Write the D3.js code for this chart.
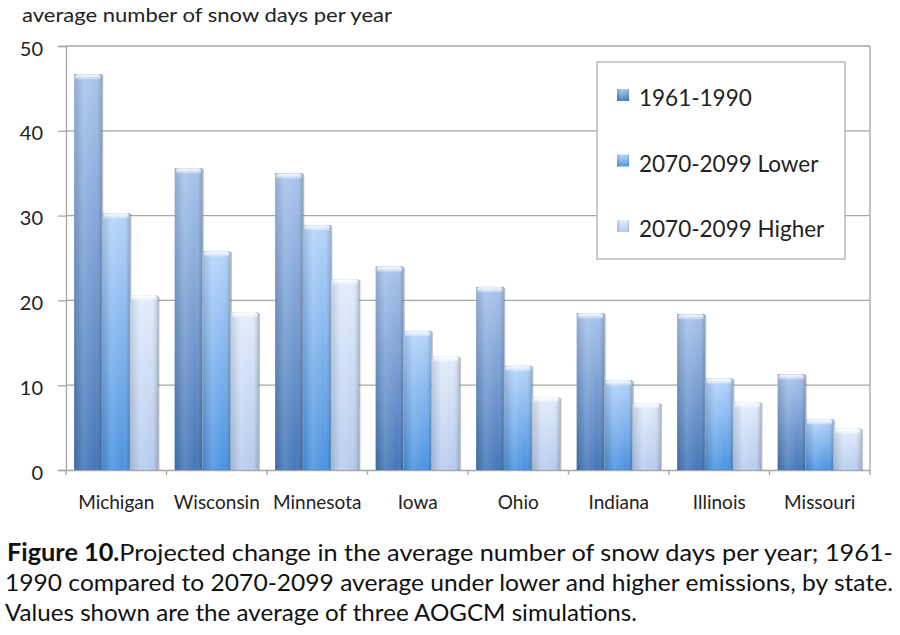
<!DOCTYPE html>
<html><head><meta charset="utf-8">
<script src="https://cdn.jsdelivr.net/npm/d3@7"></script>
<style>body{margin:0;background:#fff}svg{display:block}</style>
</head><body>
<svg id="c" width="900" height="635"></svg>
<script>
const states = ["Michigan","Wisconsin","Minnesota","Iowa","Ohio","Indiana","Illinois","Missouri"];
const seriesNames = ["1961-1990","2070-2099 Lower","2070-2099 Higher"];
const base = [46.7, 35.6, 35.0, 24.0, 21.6, 18.5, 18.4, 11.3];
const lower = [30.3, 25.8, 28.9, 16.4, 12.3, 10.6, 10.8, 6.0];
const higher = [20.6, 18.6, 22.5, 13.4, 8.6, 7.9, 8.0, 4.9];
const yTicks = [0,10,20,30,40,50];
const values = [base, lower, higher];

const svg = d3.select("#c");
const M = {l:66, r:870, t:46, b:470};
const x0 = d3.scaleBand().domain(states).range([M.l, M.r]);
const x1 = d3.scaleBand().domain(seriesNames).range([0, x0.bandwidth()]).paddingOuter(0.29);
const y = d3.scaleLinear().domain([0,50]).range([M.b, M.t]);

const defs = svg.append("defs");
const cols = [
  {top:"#a9c4ec", bot:"#4577b8"},
  {top:"#b6d5fb", bot:"#4b93e0"},
  {top:"#e2ecfb", bot:"#b6cbee"}
];
cols.forEach((c,i)=>{
  const g = defs.append("linearGradient").attr("id","v"+i).attr("x1",0).attr("y1",0).attr("x2",0).attr("y2",1);
  g.append("stop").attr("offset","0%").attr("stop-color",c.top);
  g.append("stop").attr("offset","100%").attr("stop-color",c.bot);
});
const h = defs.append("linearGradient").attr("id","hshade").attr("x1",0).attr("y1",0).attr("x2",1).attr("y2",0);
h.append("stop").attr("offset","0%").attr("stop-color","#000").attr("stop-opacity",0.12);
h.append("stop").attr("offset","35%").attr("stop-color","#fff").attr("stop-opacity",0.12);
h.append("stop").attr("offset","75%").attr("stop-color","#fff").attr("stop-opacity",0.0);
h.append("stop").attr("offset","100%").attr("stop-color","#000").attr("stop-opacity",0.18);
const capg = defs.append("linearGradient").attr("id","cap").attr("x1",0).attr("y1",0).attr("x2",0).attr("y2",1);
capg.append("stop").attr("offset","0%").attr("stop-color","#fff").attr("stop-opacity",0.95);
capg.append("stop").attr("offset","100%").attr("stop-color","#fff").attr("stop-opacity",0.2);

const font = "Lato, Calibri, 'Open Sans', sans-serif";

// gridlines
svg.append("g").selectAll("line").data(yTicks.filter(d=>d>0)).join("line")
  .attr("x1",M.l).attr("x2",M.r).attr("y1",d=>y(d)).attr("y2",d=>y(d))
  .attr("stroke","#a6a6a6").attr("stroke-width",1.3);
svg.append("line").attr("x1",M.r).attr("x2",M.r).attr("y1",M.t).attr("y2",M.b).attr("stroke","#a6a6a6").attr("stroke-width",1.3);

// y axis
const ya = svg.append("g").attr("transform",`translate(${M.l},0)`)
  .call(d3.axisLeft(y).tickValues(yTicks).tickSize(8).tickPadding(15));
ya.select(".domain").attr("stroke","#a6a6a6").attr("stroke-width",1.3);
ya.selectAll(".tick line").attr("stroke","#a6a6a6").attr("stroke-width",1.3);
ya.selectAll("text").attr("font-family",font).attr("font-size",20).attr("fill","#222").attr("dy","0.45em");

// x axis
const xa = svg.append("g").attr("transform",`translate(0,${M.b})`)
  .call(d3.axisBottom(x0).tickSize(0).tickPadding(0));
xa.select(".domain").attr("stroke","#a6a6a6").attr("stroke-width",1.3);
xa.selectAll("text").attr("font-family",font).attr("font-size",19).attr("fill","#222")
  .attr("y",39).attr("dy",0);
svg.append("g").selectAll("line").data(d3.range(states.length+1)).join("line")
  .attr("x1",i=>M.l + i*x0.step()).attr("x2",i=>M.l + i*x0.step())
  .attr("y1",M.b).attr("y2",M.b+5).attr("stroke","#a6a6a6").attr("stroke-width",1.3);

// bars
const groups = svg.append("g").selectAll("g").data(states).join("g")
  .attr("transform",d=>`translate(${x0(d)},0)`);
seriesNames.forEach((s,si)=>{
  const bw = x1.bandwidth();
  const sel = groups.append("g");
  sel.append("rect").attr("x",x1(s)+1).attr("width",bw).attr("y",(d,i)=>y(values[si][i])+1)
    .attr("height",(d,i)=>M.b-y(values[si][i])-1).attr("fill","#5a6b80").attr("opacity",0.45);
  sel.append("rect").attr("x",x1(s)).attr("width",bw-0.5).attr("y",(d,i)=>y(values[si][i]))
    .attr("height",(d,i)=>M.b-y(values[si][i])).attr("fill",`url(#v${si})`);
  sel.append("rect").attr("x",x1(s)).attr("width",bw-0.5).attr("y",(d,i)=>y(values[si][i]))
    .attr("height",(d,i)=>M.b-y(values[si][i])).attr("fill","url(#hshade)");
  sel.append("rect").attr("x",x1(s)+1).attr("width",bw-2.5).attr("y",(d,i)=>y(values[si][i])+0.5)
    .attr("height",5).attr("rx",2.5).attr("fill","url(#cap)");
});

// legend
const lg = svg.append("g");
lg.append("rect").attr("x",597).attr("y",62).attr("width",248).attr("height",197)
  .attr("fill","#fff").attr("stroke","#b0b0b0").attr("stroke-width",1.3);
seriesNames.forEach((s,i)=>{
  const yy = 97 + i*65.5;
  lg.append("rect").attr("x",617).attr("y",yy-8).attr("width",12).attr("height",12).attr("fill",`url(#v${i})`);
  lg.append("rect").attr("x",617).attr("y",yy-8).attr("width",12).attr("height",12).attr("fill","url(#hshade)");
  lg.append("text").attr("x",639).attr("y",yy+9).text(s)
    .attr("font-family",font).attr("font-size",22.5).attr("fill","#222");
});

// y title
svg.append("text").attr("x",22).attr("y",22).text("average number of snow days per year")
  .attr("font-family",font).attr("font-size",20).attr("fill","#222")
  .attr("textLength",370).attr("lengthAdjust","spacingAndGlyphs");

// caption
const capFont = "Lato, Calibri, sans-serif";
const c1 = svg.append("text").attr("x",7).attr("y",561).attr("font-family",capFont).attr("font-size",24).attr("fill","#111")
  .attr("textLength",886).attr("lengthAdjust","spacingAndGlyphs");
c1.append("tspan").attr("font-weight","bold").text("Figure 10.");
c1.append("tspan").text("Projected change in the average number of snow days per year; 1961-");
svg.append("text").attr("x",5).attr("y",591).attr("font-family",capFont).attr("font-size",24).attr("fill","#111")
  .attr("textLength",888).attr("lengthAdjust","spacingAndGlyphs")
  .text("1990 compared to 2070-2099 average under lower and higher emissions, by state.");
svg.append("text").attr("x",5).attr("y",621).attr("font-family",capFont).attr("font-size",24).attr("fill","#111")
  .attr("textLength",632).attr("lengthAdjust","spacingAndGlyphs")
  .text("Values shown are the average of three AOGCM simulations.");
</script>
</body></html>
